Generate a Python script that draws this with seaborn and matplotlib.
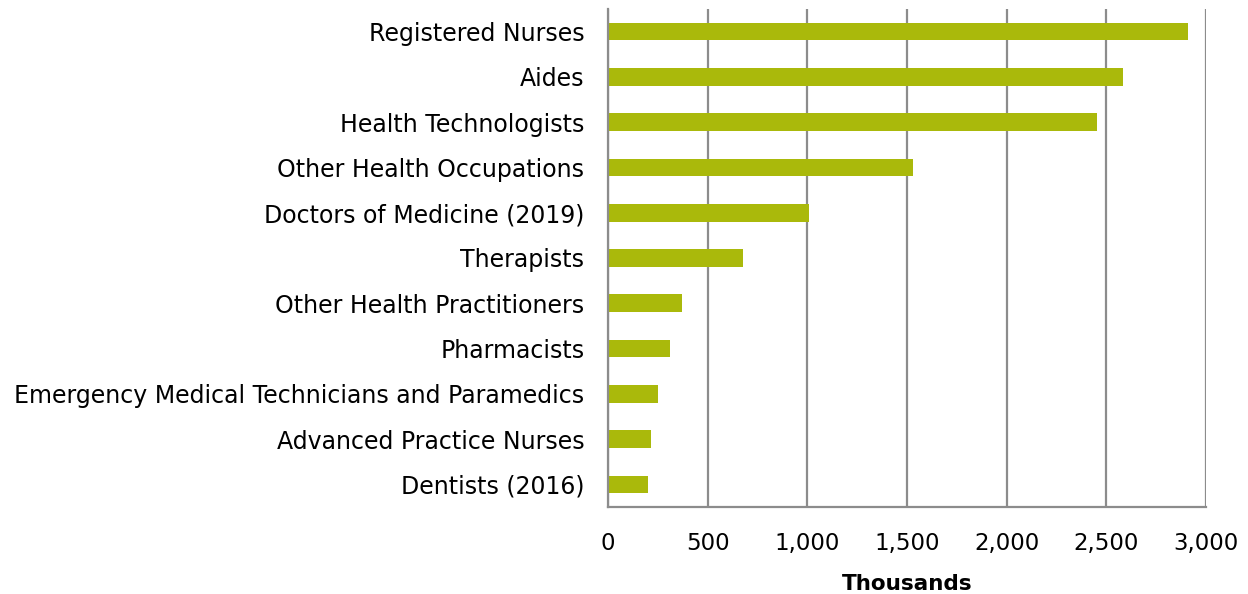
import matplotlib
matplotlib.use("Agg")
import matplotlib.pyplot as plt
import seaborn as sns
import pandas as pd
from matplotlib.ticker import FuncFormatter

categories = [
    "Registered Nurses",
    "Aides",
    "Health Technologists",
    "Other Health Occupations",
    "Doctors of Medicine (2019)",
    "Therapists",
    "Other Health Practitioners",
    "Pharmacists",
    "Emergency Medical Technicians and Paramedics",
    "Advanced Practice Nurses",
    "Dentists (2016)",
]
values = [2908, 2584, 2453, 1532, 1007, 677, 371, 311, 252, 217, 199]
xticks = [0, 500, 1000, 1500, 2000, 2500, 3000]

df = pd.DataFrame({"category": categories, "value": values})

sns.set_style("white")
plt.rcParams["font.family"] = ["DejaVu Sans"]

fig = plt.figure(figsize=(12.48, 5.94), dpi=100)
ax = fig.add_axes([608/1248, 1-507/594, (1206-608)/1248, (507-9)/594])

grid_c = "#8c8c8c"
ax.set_axisbelow(True)
for x in xticks:
    ax.axvline(x, color=grid_c, lw=1.6, zorder=0)

sns.barplot(data=df, x="value", y="category", color="#AAB90B", saturation=1,
            width=0.39, linewidth=0, ax=ax, zorder=2)

ax.set_xlim(0, 3000)
ax.set_xticks(xticks)
ax.xaxis.set_major_formatter(FuncFormatter(lambda v, p: f"{int(v):,}"))
ax.set_ylabel("")
ax.set_xlabel("Thousands", fontsize=15.5, fontweight="bold", labelpad=14, color="black")
ax.tick_params(axis="y", length=0, labelsize=17, pad=17, labelcolor="black")
ax.tick_params(axis="x", length=0, labelsize=16.5, pad=18, labelcolor="black")
for s in ["top", "right"]:
    ax.spines[s].set_visible(False)
for s in ["left", "bottom"]:
    ax.spines[s].set_color(grid_c)
    ax.spines[s].set_linewidth(1.6)

fig.savefig("out.png", dpi=100)
